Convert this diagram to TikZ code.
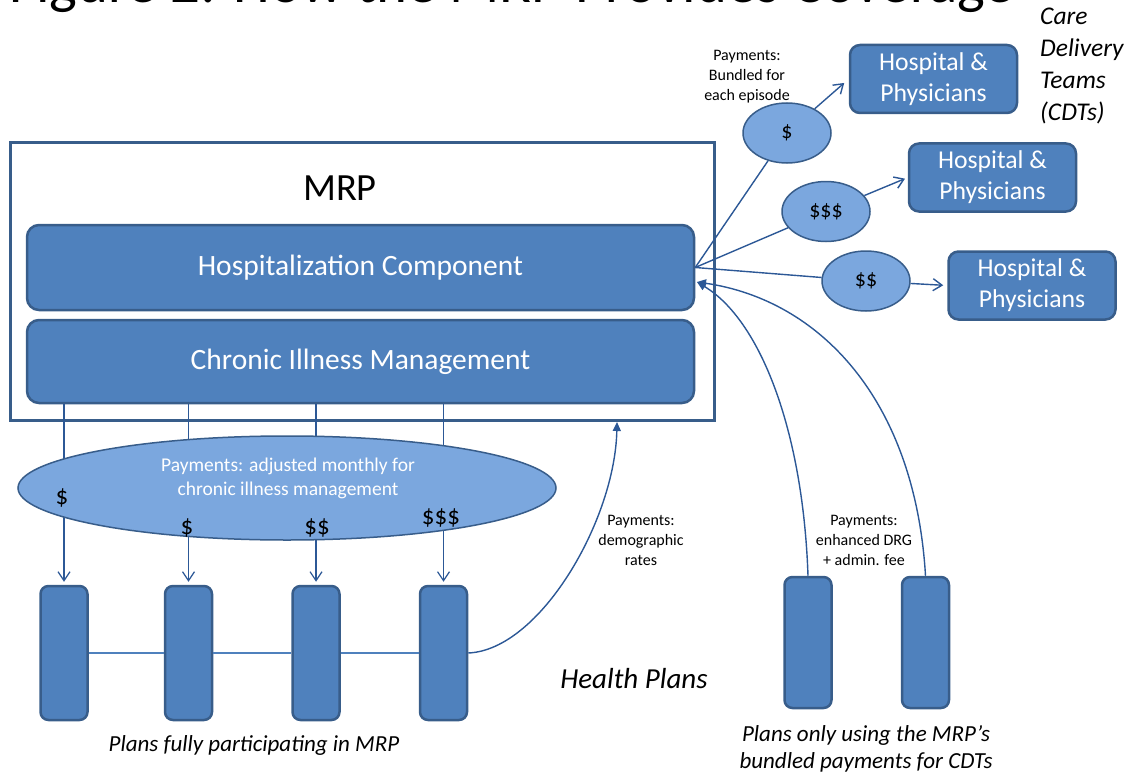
\documentclass[tikz,border=0pt]{standalone}
\usepackage{fontspec}
\setmainfont{Carlito}
\usetikzlibrary{arrows.meta,shapes.geometric}

\definecolor{boxfill}{HTML}{4F81BD}
\definecolor{boxline}{HTML}{385D8A}
\definecolor{ovalfill}{HTML}{7BA7DE}
\definecolor{wire}{HTML}{2C5896}

\newcommand{\fs}[2]{\fontsize{#1}{#2}\selectfont}

\begin{document}
\begin{tikzpicture}[x=1pt,y=-1pt,
  comp/.style={draw=boxline, line width=2.5pt, fill=boxfill, rounded corners=12pt,
    text=white, inner sep=0pt, minimum width=667pt, font=\fs{29.5}{35}},
  hpbox/.style={draw=boxline, line width=2.5pt, fill=boxfill, rounded corners=10pt,
    text=white, inner sep=0pt, minimum width=167pt, minimum height=68pt,
    align=center, font=\fs{25.7}{31}},
  plan/.style={draw=boxline, line width=2.5pt, fill=boxfill, rounded corners=8pt,
    inner sep=0pt, minimum width=47pt},
  coin/.style={ellipse, draw=boxline, line width=1.5pt, fill=ovalfill, inner sep=0pt,
    minimum width=88pt, minimum height=60pt, font=\fs{22}{26}},
  wirel/.style={draw=wire, line width=1.4pt},
  opentip/.style={wirel, -{Straight Barb[length=9pt,width=12pt]}},
  filltip/.style={wirel, -{Triangle[length=9pt,width=8pt]}},
  note/.style={align=center, inner sep=0pt, font=\fs{16}{20}},
  capline/.style={align=center, inner sep=0pt, font=\itshape\fs{23}{26.5}},
  money/.style={inner sep=0pt, font=\fs{25}{30}}]

\useasboundingbox (0,0) rectangle (1132,773);

% heading (its upper part runs off the page)
\node[anchor=base west, inner sep=0pt, font=\fs{58.8}{70}] (title) at (9,3)
  {Figure 2: How the MRP Provides Coverage};

% MRP frame with its two components
\node[draw=boxline, line width=3pt, minimum width=704pt, minimum height=277pt,
  inner sep=0pt] (mrp) at (362,281.5) {};
\node[inner sep=0pt, font=\fs{38.5}{46}] (mrplabel) at (340,188) {MRP};
\node[comp, minimum height=85pt] (hosp) at (360.5,267.5) {Hospitalization Component};
\node[comp, minimum height=83pt] (chronic) at (360.5,361.5) {Chronic Illness Management};

% health plans
\node[plan, minimum height=134pt] (p1) at (64,653) {};
\node[plan, minimum height=134pt] (p2) at (188.5,653) {};
\node[plan, minimum height=134pt] (p3) at (316,653) {};
\node[plan, minimum height=134pt] (p4) at (443.5,653) {};
\node[plan, minimum height=131pt] (q1) at (808,642.5) {};
\node[plan, minimum height=131pt] (q2) at (925.5,642.5) {};

\draw[draw=boxfill, line width=1.5pt] (p1) -- (p2);
\draw[draw=boxfill, line width=1.5pt] (p2) -- (p3);
\draw[draw=boxfill, line width=1.5pt] (p3) -- (p4);

% monthly payments for chronic illness management
\draw[opentip, line width=1.2pt] (p1.north |- chronic.south) -- ([yshift=3pt]p1.north);
\draw[opentip, line width=1.2pt] (p2.north |- chronic.south) -- ([yshift=3pt]p2.north);
\draw[opentip, line width=1.2pt] (p3.north |- chronic.south) -- ([yshift=3pt]p3.north);
\draw[opentip, line width=1.2pt] (p4.north |- chronic.south) -- ([yshift=3pt]p4.north);
\node[ellipse, draw=boxline, line width=1.5pt, fill=ovalfill, inner sep=0pt,
  minimum width=538pt, minimum height=104pt] (oval) at (287,488) {};
\node[align=center, text=white, inner sep=0pt, font=\fs{19.5}{24}] (ovaltext) at (288,478)
  {Payments: adjusted monthly for\\chronic illness management};
\node[money] (m1) at (62,498) {\$};
\node[money] (m2) at (187,528) {\$};
\node[money] (m3) at (317,528) {\$\$};
\node[money] (m4) at (441,518) {\$\$\$};

% demographic payments back to the MRP
\coordinate (demo) at (617,422);
\draw[filltip] (p4.east) .. controls (540,650) and (615,520) .. (demo);
\node[note] (demonote) at (641,540) {Payments:\\demographic\\rates};

% enhanced DRG payments from the other plans
\coordinate (drgin) at (697,282);
\draw[filltip] (q1.north) .. controls (803,430) and (760,320) .. (drgin);
\draw[filltip] (q2.north) .. controls (915,400) and (820,300) .. (drgin);
\node[note] (drgnote) at (864,540) {Payments:\\enhanced DRG\\+ admin. fee};

% bundled payments to the care delivery teams
\node[hpbox] (h1) at (933.5,79) {Hospital \&\\Physicians};
\node[hpbox] (h2) at (992.5,177.5) {Hospital \&\\Physicians};
\node[hpbox] (h3) at (1032,285.5) {Hospital \&\\Physicians};
\node[coin] (e1) at (787,133) {\$};
\node[coin] (e2) at (826,211.5) {\$\$\$};
\node[coin] (e3) at (866,281) {\$\$};
\draw[wirel] (hosp.east) -- (e1);
\draw[wirel] (hosp.east) -- (e2);
\draw[wirel] (hosp.east) -- (e3);
\draw[opentip, shorten >=6pt] (e1) -- (h1.west);
\draw[opentip, shorten >=3pt] (e2) -- (h2.west);
\draw[opentip, shorten >=4pt] (e3) -- (h3.west);
\node[note] (bundlenote) at (747,77) {Payments:\\Bundled for\\each episode};

% captions
\node[align=left, anchor=west, inner sep=0pt, font=\itshape\fs{25.5}{31.7}] (cdt) at (1040,66)
  {Care\\Delivery\\Teams\\(CDTs)};
\node[inner sep=0pt, font=\itshape\fs{29}{35}] (hplans) at (634,679) {Health Plans};
\node[capline] (fullcap) at (254,745) {Plans fully participating in MRP};
\node[capline] (bundcap) at (866,749) {Plans only using the MRP’s\\bundled payments for CDTs};

\end{tikzpicture}
\end{document}
